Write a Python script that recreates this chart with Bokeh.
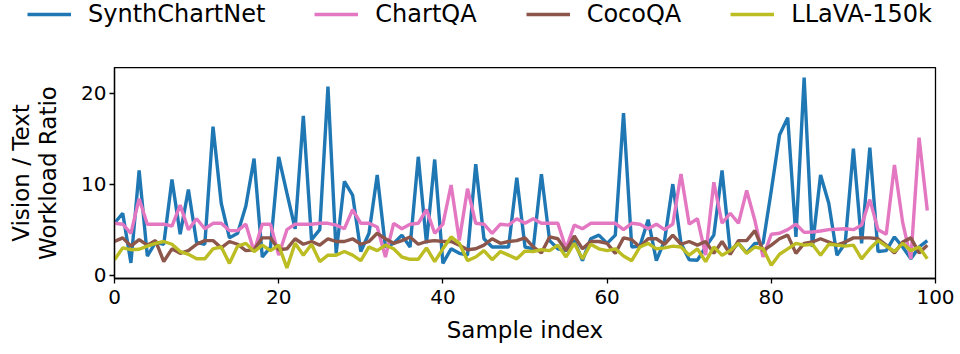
from bokeh.plotting import figure
from bokeh.models import Range1d, Legend, LegendItem, FixedTicker
from bokeh.embed import file_html
from bokeh.resources import INLINE

sample_index = list(range(100))

synthchartnet = [5.7, 6.8, 1.35, 11.5, 2.1, 3.6, 3.4, 10.5, 4.5, 9.4,
                 3.6, 3.4, 16.3, 7.9, 4.1, 4.6, 7.6, 12.8, 2.0, 3.1,
                 13.0, 9.0, 5.1, 17.5, 3.9, 5.0, 20.7, 2.4, 10.3, 8.8,
                 2.6, 4.6, 11.0, 3.1, 3.5, 4.4, 3.1, 13.0, 3.5, 12.7,
                 1.3, 2.9, 2.4, 2.2, 12.2, 4.0, 3.1, 3.1, 3.1, 10.7,
                 3.1, 2.9, 11.1, 3.8, 2.9, 2.7, 3.8, 1.6, 4.0, 4.4,
                 3.5, 4.4, 17.8, 3.1, 3.2, 6.1, 1.6, 3.8, 10.0, 3.5,
                 1.7, 1.65, 3.1, 4.4, 11.5, 2.6, 3.5, 2.45, 3.5, 3.5,
                 9.3, 15.4, 17.3, 4.2, 21.7, 3.1, 11.0, 7.9, 2.2, 3.5,
                 13.9, 3.5, 14.0, 2.6, 2.7, 4.2, 3.1, 1.8, 3.1, 3.8]

chartqa = [5.7, 5.6, 4.6, 8.4, 5.6, 5.6, 5.6, 5.4, 7.7, 5.0,
           6.2, 5.1, 5.7, 5.7, 4.9, 4.9, 5.6, 2.6, 5.6, 5.6,
           2.2, 5.0, 5.6, 5.6, 5.6, 5.7, 5.7, 5.5, 5.1, 7.2,
           5.7, 5.7, 5.3, 2.0, 5.7, 5.1, 5.6, 5.7, 7.2, 4.6,
           5.6, 9.9, 3.8, 9.5, 5.7, 5.6, 4.6, 5.6, 5.5, 6.2,
           5.7, 6.2, 5.7, 5.7, 5.7, 2.9, 5.5, 5.1, 5.7, 5.7,
           5.7, 5.7, 5.0, 5.7, 5.6, 5.1, 5.6, 5.0, 5.6, 11.1,
           5.6, 6.2, 2.2, 10.2, 5.7, 6.8, 5.7, 9.3, 6.0, 2.0,
           4.5, 4.6, 5.0, 5.6, 4.7, 4.75, 4.85, 5.0, 5.05, 5.1,
           5.0, 5.5, 8.3, 5.0, 4.5, 12.1, 5.8, 1.8, 15.1, 7.1]

cocoqa = [3.7, 4.1, 3.2, 3.9, 3.3, 3.8, 1.5, 2.9, 2.4, 2.7,
          3.4, 3.8, 3.8, 3.0, 3.7, 3.4, 2.7, 2.8, 4.1, 4.1,
          2.8, 2.9, 4.0, 3.4, 3.7, 3.3, 4.0, 3.7, 3.7, 4.0,
          3.4, 3.7, 4.6, 4.0, 3.5, 3.8, 4.2, 3.4, 3.7, 3.8,
          3.7, 3.7, 3.3, 2.8, 2.9, 3.3, 4.0, 3.5, 3.7, 3.8,
          4.1, 3.1, 2.45, 4.2, 4.0, 2.7, 4.3, 2.9, 3.7, 3.7,
          3.5, 2.4, 4.1, 3.9, 3.1, 4.0, 4.0, 3.4, 4.4, 3.4,
          3.7, 3.3, 3.7, 2.4, 3.7, 2.3, 3.8, 3.8, 4.9, 2.7,
          3.3, 4.0, 4.4, 2.4, 3.5, 3.65, 4.0, 3.65, 3.3, 3.65,
          4.1, 4.1, 4.1, 4.0, 3.3, 2.45, 3.65, 4.1, 2.45, 3.3]

llava_150k = [1.7, 3.0, 2.8, 2.85, 3.2, 3.5, 3.7, 3.4, 2.6, 2.3,
              1.8, 1.8, 2.9, 3.1, 1.3, 3.2, 3.5, 2.6, 3.3, 2.7,
              3.3, 0.8, 3.5, 2.2, 3.4, 1.5, 2.2, 2.2, 2.6, 2.2,
              1.6, 3.1, 2.7, 3.3, 2.9, 2.0, 1.75, 1.75, 3.0, 1.5,
              2.9, 4.2, 3.5, 1.6, 2.0, 2.7, 1.7, 2.6, 2.2, 1.8,
              2.65, 2.6, 2.8, 2.7, 3.3, 2.0, 3.5, 1.8, 3.4, 2.9,
              2.7, 2.9, 2.1, 1.6, 3.1, 3.5, 2.9, 3.0, 3.2, 3.1,
              2.2, 2.9, 1.5, 3.1, 2.2, 2.7, 3.5, 2.4, 3.1, 2.9,
              1.1, 2.3, 2.9, 3.5, 3.3, 3.4, 2.2, 3.4, 3.3, 3.2,
              3.3, 1.8, 2.9, 3.8, 3.2, 2.6, 3.5, 2.7, 3.1, 1.8]

series_names = ["SynthChartNet", "ChartQA", "CocoQA", "LLaVA-150k"]
series_values = [synthchartnet, chartqa, cocoqa, llava_150k]
series_colors = ["#1f77b4", "#e377c2", "#8c564b", "#bcbd22"]

x_ticks = [0, 20, 40, 60, 80, 100]
y_ticks = [0, 10, 20]

FONT = "DejaVu Sans"
LW = 3.4

# ---- legend strip (top); its view range excludes the data, only the legend shows ----
leg_fig = figure(width=960, height=67, output_backend="svg", toolbar_location=None,
                 x_range=Range1d(0, 100), y_range=Range1d(1000, 1001),
                 x_axis_type=None, y_axis_type=None,
                 min_border=0, min_border_left=0, min_border_right=0,
                 min_border_top=0, min_border_bottom=0)
leg_fig.outline_line_color = None
leg_fig.xgrid.visible = False
leg_fig.ygrid.visible = False

leg_items = []
for name, vals, col in zip(series_names, series_values, series_colors):
    r = leg_fig.line(sample_index, vals, line_color=col, line_width=LW)
    leg_items.append(LegendItem(label=name, renderers=[r]))

legend = Legend(items=leg_items, orientation="horizontal", location=(27, 39),
                label_text_font=FONT, label_text_font_size="24px",
                label_text_color="black",
                glyph_width=44, glyph_height=28, label_standoff=17, spacing=49,
                padding=0, margin=0,
                border_line_alpha=0, background_fill_alpha=0)
leg_fig.add_layout(legend)

# ---- main plot ----
p = figure(width=960, height=287, output_backend="svg", toolbar_location=None,
           x_range=Range1d(0, 100), y_range=Range1d(-0.36, 22.8),
           min_border_left=114, min_border_right=25,
           min_border_top=0, min_border_bottom=76)

for name, vals, col in zip(series_names, series_values, series_colors):
    p.line(sample_index, vals, line_color=col, line_width=LW)

p.xgrid.visible = False
p.ygrid.visible = False
p.outline_line_color = "black"
p.outline_line_width = 1.3
p.outline_line_alpha = 1.0
p.background_fill_color = "white"
p.border_fill_color = "white"

for ax in (p.xaxis[0], p.yaxis[0]):
    ax.axis_line_color = "black"
    ax.axis_line_width = 1.3
    ax.major_tick_line_color = "black"
    ax.major_tick_line_width = 1.3
    ax.major_tick_out = 5
    ax.major_tick_in = 0
    ax.minor_tick_line_color = None
    ax.major_label_text_font = FONT
    ax.major_label_text_font_size = "20px"
    ax.major_label_text_color = "black"
    ax.axis_label_text_font = FONT
    ax.axis_label_text_font_size = "23px"
    ax.axis_label_text_font_style = "normal"
    ax.axis_label_text_color = "black"

p.xaxis[0].ticker = FixedTicker(ticks=x_ticks)
p.yaxis[0].ticker = FixedTicker(ticks=y_ticks)
p.xaxis[0].axis_label = "Sample index"
p.yaxis[0].axis_label = "Vision / Text\nWorkload Ratio"
p.yaxis[0].axis_label_text_line_height = 1.05
p.xaxis[0].major_label_standoff = 6
p.yaxis[0].major_label_standoff = 3
p.xaxis[0].axis_label_standoff = 10
p.yaxis[0].axis_label_standoff = 17

open("out.html", "w").write(file_html([leg_fig, p], INLINE))
